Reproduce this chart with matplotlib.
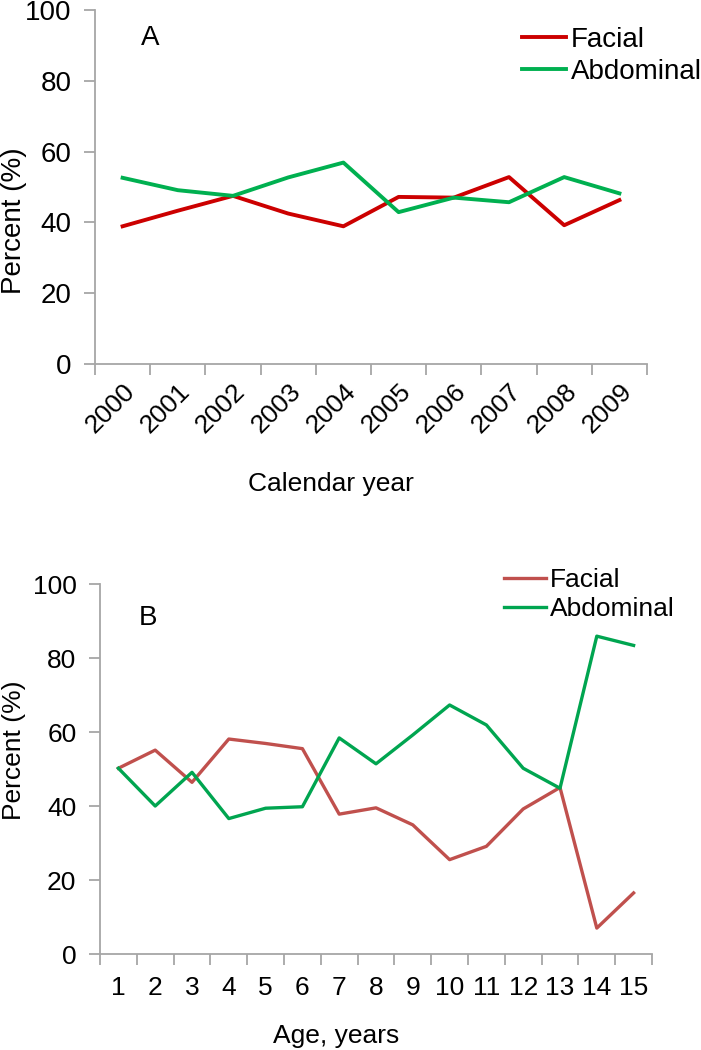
import numpy as np
import matplotlib.pyplot as plt

plt.rcParams['font.family'] = ['Liberation Sans', 'DejaVu Sans']

# panel A data
years = ['2000', '2001', '2002', '2003', '2004', '2005', '2006', '2007', '2008', '2009']
facial_year = [38.9, 43.3, 47.5, 42.5, 38.9, 47.2, 47.0, 52.8, 39.2, 46.3]
abdominal_year = [52.6, 49.1, 47.5, 52.7, 56.9, 42.9, 47.0, 45.7, 52.8, 48.2]

# panel B data
ages = ['1', '2', '3', '4', '5', '6', '7', '8', '9', '10', '11', '12', '13', '14', '15']
facial_age = [50.2, 55.1, 46.4, 58.1, 56.9, 55.5, 37.8, 39.5, 34.9, 25.5, 29.1, 39.2, 45.0, 7.0, 16.5]
abdominal_age = [50.2, 40.0, 49.1, 36.6, 39.4, 39.8, 58.4, 51.4, 59.2, 67.3, 61.9, 50.2, 44.8, 85.9, 83.4]

W, H = 701, 1050
axis_grey = '#A6A6A6'


def px(left, top, right, bottom):
    return [left / W, 1 - bottom / H, (right - left) / W, (bottom - top) / H]


def style_axis(ax, labels, fs, rot):
    n = len(labels)
    for s in ['top', 'right']:
        ax.spines[s].set_visible(False)
    for s in ['left', 'bottom']:
        ax.spines[s].set_color(axis_grey)
        ax.spines[s].set_linewidth(1.3)
    ax.set_xlim(-0.5, n - 0.5)
    ax.set_ylim(0, 100)
    ax.set_yticks(np.arange(0, 101, 20))
    ax.set_xticks(np.arange(n + 1) - 0.5)
    ax.set_xticklabels([])
    ax.set_xticks(np.arange(n), minor=True)
    if rot:
        ax.set_xticklabels(labels, minor=True, rotation=45, ha='right',
                           rotation_mode='anchor', fontsize=fs - 1)
    else:
        ax.set_xticklabels(labels, minor=True, fontsize=fs)
    ax.tick_params(axis='x', which='minor', length=0, pad=16 if not rot else 11)
    ax.tick_params(axis='both', which='major', direction='out', length=8,
                   width=1.3, color=axis_grey, labelsize=fs, pad=9)


fig = plt.figure(figsize=(W / 100, H / 100), dpi=100)

# panel A
ax1 = fig.add_axes(px(95, 10, 647, 364))
x1 = np.arange(len(years))
ax1.plot(x1, facial_year, color='#CC0000', lw=2.8, label='Facial')
ax1.plot(x1, abdominal_year, color='#00B050', lw=2.8, label='Abdominal')
style_axis(ax1, years, 20, True)
fig.text(150 / W, 1 - 38 / H, 'A', fontsize=20, ha='center', va='center')
fig.text(14 / W, 1 - 221 / H, 'Percent (%)', fontsize=20, rotation=90, ha='center', va='center')
fig.text(331 / W, 1 - 484 / H, 'Calendar year', fontsize=19, ha='center', va='center')
ax1.legend(loc='upper left', bbox_to_anchor=(522 / W, 1 - 27 / H), bbox_transform=fig.transFigure,
           frameon=False, fontsize=20, handlelength=1.6, handletextpad=0.15,
           labelspacing=0.2, borderpad=0, borderaxespad=0)

# panel B
ax2 = fig.add_axes(px(100, 584, 652, 954))
x2 = np.arange(len(ages))
ax2.plot(x2, facial_age, color='#C0504D', lw=2.4, label='Facial')
ax2.plot(x2, abdominal_age, color='#00A550', lw=2.4, label='Abdominal')
style_axis(ax2, ages, 19, False)
fig.text(148 / W, 1 - 618 / H, 'B', fontsize=20, ha='center', va='center')
fig.text(14 / W, 1 - 750 / H, 'Percent (%)', fontsize=19, rotation=90, ha='center', va='center')
fig.text(336 / W, 1 - 1036 / H, 'Age, years', fontsize=19, ha='center', va='center')
ax2.legend(loc='upper left', bbox_to_anchor=(504 / W, 1 - 568 / H), bbox_transform=fig.transFigure,
           frameon=False, fontsize=19, handlelength=1.6, handletextpad=0.15,
           labelspacing=0.2, borderpad=0, borderaxespad=0)

fig.savefig('out.png', dpi=100)
